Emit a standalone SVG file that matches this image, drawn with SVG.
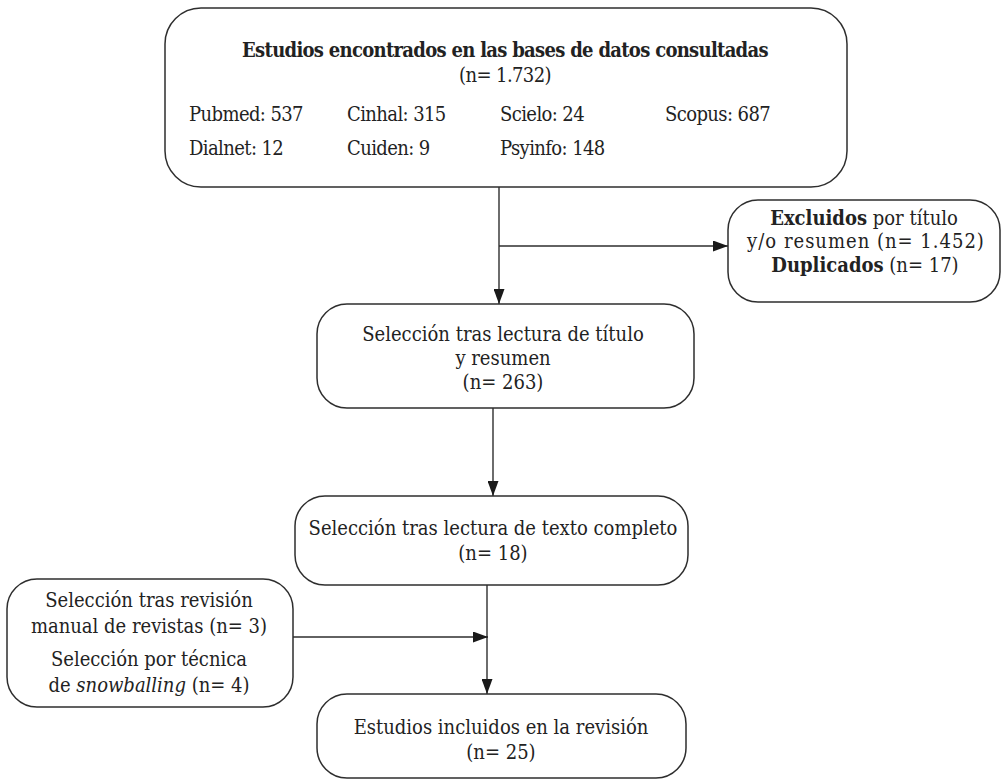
<svg xmlns="http://www.w3.org/2000/svg" width="1002" height="782" viewBox="0 0 1002 782">
<style>
.box{fill:#fff;stroke:#2e2e2e;stroke-width:1.5}
.t{font-family:"DejaVu Serif Condensed","DejaVu Serif","Liberation Serif",serif;font-stretch:condensed;font-size:20px;fill:#222;text-anchor:middle}
.c{font-family:"DejaVu Serif Condensed","DejaVu Serif","Liberation Serif",serif;font-stretch:condensed;font-size:20px;letter-spacing:-0.6px;fill:#222}
.ln{fill:none;stroke:#2e2e2e;stroke-width:1.4}
.b{font-weight:bold}
</style>
<defs>
<marker id="ah" viewBox="0 0 15 11" refX="15" refY="5.5" markerWidth="15" markerHeight="11" markerUnits="userSpaceOnUse" orient="auto">
<path d="M0,0 L15,5.5 L0,11 Z" fill="#1a1a1a"/>
</marker>
</defs>
<rect width="1002" height="782" fill="#fff"/>
<g id="connectors">
<line class="ln" x1="499" y1="187" x2="499" y2="304" marker-end="url(#ah)"/>
<line class="ln" x1="499" y1="246" x2="728" y2="246" marker-end="url(#ah)"/>
<line class="ln" x1="493" y1="408" x2="493" y2="496" marker-end="url(#ah)"/>
<line class="ln" x1="487" y1="585" x2="487" y2="694" marker-end="url(#ah)"/>
<line class="ln" x1="293" y1="637" x2="488" y2="637" marker-end="url(#ah)"/>
</g>
<g id="n1">
<rect class="box" x="165" y="8" width="682" height="179" rx="36"/>
<text class="c b" x="505" y="57" text-anchor="middle" style="letter-spacing:-0.7px">Estudios encontrados en las bases de datos consultadas</text>
<text class="c" x="505" y="82" text-anchor="middle">(n= 1.732)</text>
<text class="c" x="189" y="121">Pubmed: 537</text>
<text class="c" x="347" y="121">Cinhal: 315</text>
<text class="c" x="500" y="121">Scielo: 24</text>
<text class="c" x="665" y="121">Scopus: 687</text>
<text class="c" x="189" y="155">Dialnet: 12</text>
<text class="c" x="347" y="155">Cuiden: 9</text>
<text class="c" x="500" y="155">Psyinfo: 148</text>
</g>
<g id="n2">
<rect class="box" x="728" y="200" width="272" height="102" rx="30"/>
<text class="t" x="864" y="225"><tspan class="b">Excluidos</tspan> por título</text>
<text class="t" x="866" y="248" style="letter-spacing:1px">y/o resumen (n= 1.452)</text>
<text class="t" x="865" y="272"><tspan class="b">Duplicados</tspan> (n= 17)</text>
</g>
<g id="n3">
<rect class="box" x="317" y="304" width="377" height="104" rx="30"/>
<text class="t" x="503" y="341">Selección tras lectura de título</text>
<text class="t" x="503" y="365">y resumen</text>
<text class="t" x="503" y="389">(n= 263)</text>
</g>
<g id="n4">
<rect class="box" x="295" y="496" width="393" height="89" rx="30"/>
<text class="t" x="493" y="535">Selección tras lectura de texto completo</text>
<text class="t" x="493" y="560">(n= 18)</text>
</g>
<g id="n5">
<rect class="box" x="7" y="579" width="286" height="128" rx="30"/>
<text class="t" x="149" y="607">Selección tras revisión</text>
<text class="t" x="149" y="633">manual de revistas (n= 3)</text>
<text class="t" x="149" y="666">Selección por técnica</text>
<text class="t" x="149" y="692">de <tspan font-style="italic">snowballing</tspan> (n= 4)</text>
</g>
<g id="n6">
<rect class="box" x="317" y="694" width="369" height="84" rx="30"/>
<text class="t" x="501" y="734">Estudios incluidos en la revisión</text>
<text class="t" x="501" y="759">(n= 25)</text>
</g>
</svg>
